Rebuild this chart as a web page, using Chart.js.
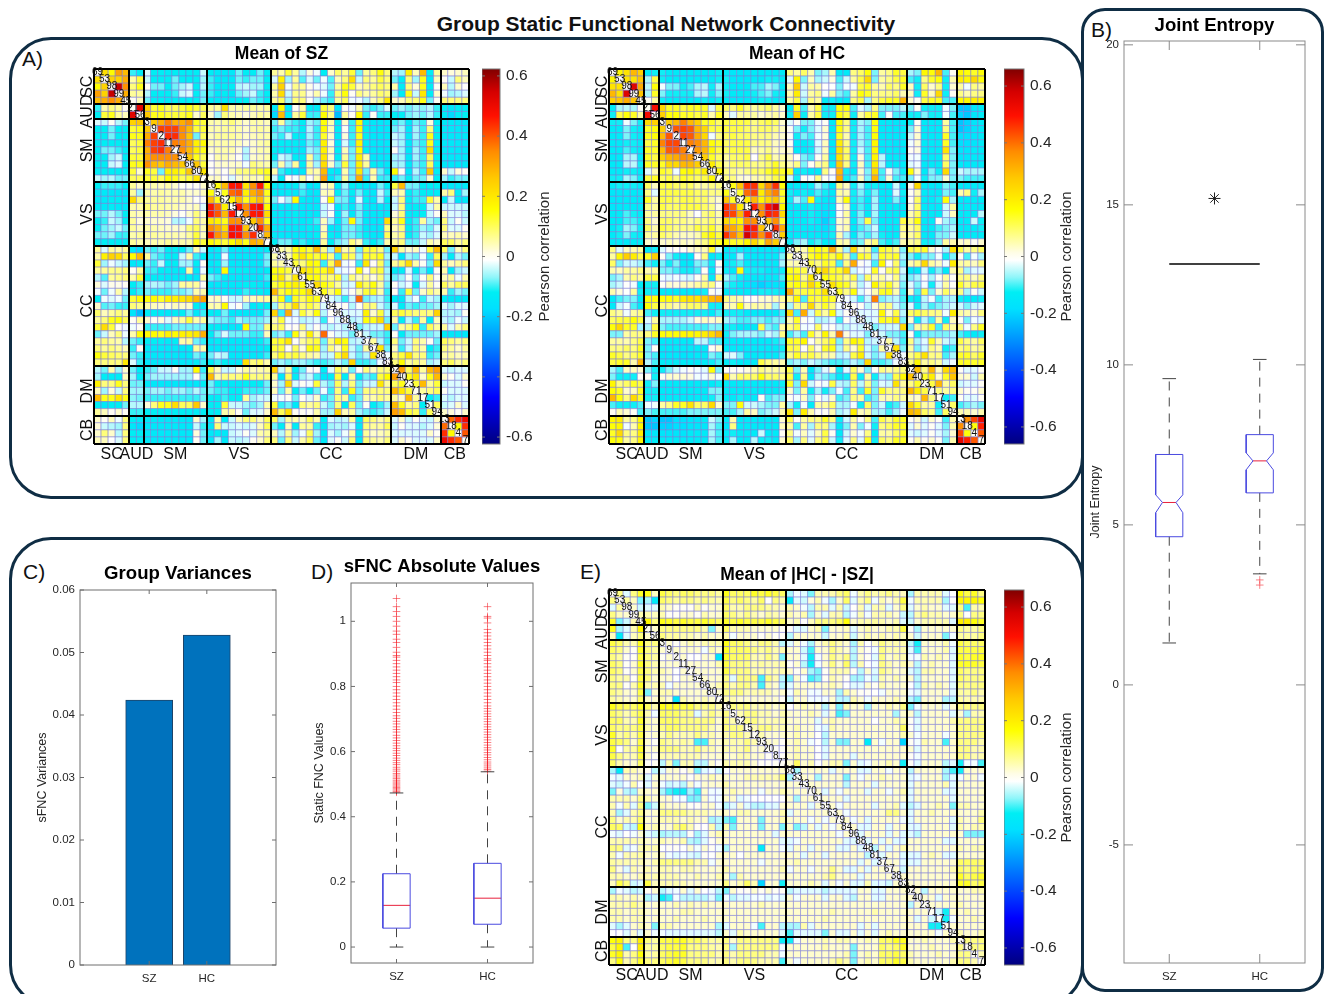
<!DOCTYPE html>
<html>
<head>
<meta charset="utf-8">
<title>Group Static Functional Network Connectivity</title>
<script src="https://cdn.jsdelivr.net/npm/chart.js@4"></script>
<style>
html, body { margin: 0; padding: 0; background: #fff; }
body { position: relative; width: 1325px; height: 994px; overflow: hidden; font-family: "Liberation Sans", sans-serif; color: #111; }
canvas { position: absolute; }
.frame { position: absolute; box-sizing: border-box; border: 3px solid #0f2d44; }
.letter { position: absolute; font-size: 21px; line-height: 24px; }
#main-title { position: absolute; left: 266px; width: 800px; top: 11px; text-align: center; font-size: 21px; line-height: 26px; font-weight: bold; }
</style>
</head>
<body>
<div class="frame" style="left:9px;top:37px;width:1075px;height:462px;border-radius:42px"></div>
<div class="frame" style="left:9px;top:537px;width:1075px;height:470px;border-radius:42px"></div>
<div class="frame" style="left:1081px;top:8px;width:243px;height:984px;border-radius:24px"></div>
<div id="main-title">Group Static Functional Network Connectivity</div>
<div class="letter" style="left:22px;top:47px">A)</div>
<div class="letter" style="left:1091px;top:18px">B)</div>
<div class="letter" style="left:23px;top:560px">C)</div>
<div class="letter" style="left:311px;top:560px">D)</div>
<div class="letter" style="left:580px;top:560px">E)</div>
<script>
// Networks and component ids along the matrix diagonal
const networks = ['SC', 'AUD', 'SM', 'VS', 'CC', 'DM', 'CB'];
const networkSizes = [5, 2, 9, 9, 17, 7, 4];
const componentIds = [69, 53, 98, 99, 45, 21, 56, 3, 9, 2, 11, 27, 54, 66, 80, 72, 16, 5, 62, 15, 12, 93, 20, 8, 77,
    68, 33, 43, 70, 61, 55, 63, 79, 84, 96, 88, 48, 81, 37, 67, 38, 83, 32, 40, 23, 71, 17, 51, 94, 13, 18, 4, 7];

// Upper triangle of each matrix, one row per component, values in hundredths
const szUpper = [
[22,16,32,28, -10,-12, -3,-12,-12,-13,-12,-12,-12,-12,-4, -12,-14,-14,-14,-8,-12,-12,-8,-12, 6,5,12,6,-5,2,-2,-12,3,9,6,12,-8,6,8,15,8, -5,-6,18,4,28,-12,6, 3,2,3,4],
[24,24,30, 5,12, -4,-12,-12,-12,-8,-12,-12,-12,-6, -10,-14,-14,-14,-8,-10,-8,-8,-12, -3,18,-6,6,-9,-3,-8,-2,-9,4,8,22,-4,8,6,12,8, -8,-12,8,-6,14,-14,4, 0,-4,8,4],
[56,34, 8,14, 0,-8,-8,-12,-8,-6,-4,-12,-5, -10,-14,-12,-12,-5,-4,-6,-6,-12, 6,24,-2,7,6,1,-2,-3,-8,6,14,12,4,6,8,10,8, 5,-12,8,2,14,-12,0, 4,-5,3,-1],
[30, 6,6, -5,-12,-12,-12,-10,-4,-3,-12,-8, -10,-14,-12,-14,-8,-6,-4,-10,-12, 5,22,-4,7,7,1,5,-2,-10,8,15,0,8,5,6,9,8, -6,-12,14,-4,20,-12,3, -2,-6,-5,-3],
[0,4, -8,-12,-12,-14,-12,-12,-12,-12,-8, -12,-14,-14,-14,-12,-12,-8,-10,-12, 6,10,-6,8,8,0,-5,-8,-10,6,10,-2,-2,-5,4,8,20, 3,4,8,8,14,-8,0, 8,8,8,8],
[52, 24,12,14,10,10,12,14,12,10, 6,6,22,5,5,6,6,5,6, -14,16,-14,0,5,-12,-13,12,8,-15,0,-2,5,-8,-10,-8,-3, -8,-6,-8,-6,-7,-5,-10, -12,-14,-12,-12],
[26,14,14,12,12,12,14,3,10, 3,-6,8,5,4,2,4,6,5, -18,28,-12,6,12,-10,-10,16,7,-22,6,0,16,-10,0,-10,-10, -12,-12,-8,-6,-8,-5,-10, -13,-18,-12,-12],
[26,30,36,30,30,34,14,12, 5,5,6,8,5,3,5,5,4, -8,6,-8,-10,-12,-6,-8,15,5,-12,3,-10,17,-12,-14,-14,-14, -10,-8,-14,-8,-10,2,-12, -14,-14,-14,-14],
[42,42,42,34,28,12,12, 5,5,6,6,5,3,5,6,5, -10,-8,-10,-10,-12,-5,-10,16,4,-12,0,-10,16,-12,-14,-14,-14, -8,-6,-14,-6,-10,8,-12, -14,-14,-14,-14],
[44,44,34,26,-8,10, 4,6,6,6,5,3,4,5,5, -8,-10,-4,-12,-12,-6,-10,13,3,-13,2,-10,14,-12,-14,-14,-14, -4,-6,-14,-6,-10,14,-12, -14,-14,-14,-14],
[36,34,30,18,16, 5,5,5,5,4,2,3,5,6, -12,-12,-12,-12,-14,-8,-10,18,2,-14,-3,-10,18,-13,-14,-14,-14, -4,-6,-14,-8,-10,14,-12, -14,-14,-14,-14],
[34,28,18,14, 3,5,5,5,2,-5,3,5,5, -12,-12,-12,-13,-14,-6,-8,18,4,-12,4,-8,16,-12,-14,-14,-14, 0,-6,-14,-6,-10,22,-12, -14,-14,-14,-14],
[26,14,10, 0,5,5,3,0,-5,3,4,5, -12,-4,-6,-12,-12,6,-8,20,3,-12,6,-8,18,5,-14,-14,-14, -6,-6,-14,-6,-10,10,-12, -14,-14,-14,-14],
[26,12, 0,3,3,3,3,-2,8,6,5, -8,5,-6,6,-12,6,-6,22,3,-8,12,-8,18,6,-12,-13,-14, -6,-6,-14,-8,-10,10,-12, -14,-14,-14,-14],
[20, 0,3,0,4,8,8,10,12,14, 5,-10,-12,-14,-14,6,5,28,-12,-14,5,-8,20,-8,6,-8,-12, 16,0,-14,-5,-10,26,-12, 3,-4,2,0],
[3,4,0,-3,3,5,5,4,12, -4,-12,0,-2,6,0,5,32,-14,-10,6,-8,30,-10,5,-10,-10, -10,-8,-12,-8,-8,3,-12, -6,-10,-8,-8],
[15,28,46,46,20,34,46,16, -14,-14,-14,-12,-8,-14,-14,3,5,-12,-6,-12,-12,-14,-14,-8,-12, 12,28,-8,-8,-12,-12,-12, -14,-14,-14,-14],
[14,38,40,18,30,34,14, -12,-14,-12,-14,-10,-14,-14,4,5,-12,-8,-12,-8,-12,-14,-4,-10, 4,5,-12,-10,-12,-12,-12, 5,8,-12,-6],
[18,28,14,22,28,12, -8,-2,-6,16,-12,-14,-14,0,16,-8,-8,-14,-3,-12,-14,-5,-12, -4,8,-12,-10,-10,12,5, -12,-4,-14,-14],
[46,34,46,48,16, -14,-14,-14,-12,-14,-14,-14,-4,-2,-14,-10,-14,-8,-14,-14,-14,-14, -4,8,-14,-12,-12,-4,5, -4,-4,-4,-4],
[34,46,46,22, -14,-14,-14,-12,-14,-14,-14,-4,0,-14,-6,-14,-8,-14,-14,-14,-14, 2,8,-14,-12,-12,-4,0, 4,-3,-3,-5],
[26,34,14, -14,-14,-14,-12,-14,-12,-10,4,-6,-14,-8,16,-8,-14,-14,-14,22, 6,14,-12,-10,6,-6,-8, 8,-4,0,-4],
[44,30, -14,-14,-14,-14,-14,-12,-12,4,-14,-14,-8,-8,-10,-14,-14,-14,8, 4,8,-12,-10,-6,-8,-3, 8,-3,-3,0],
[28, -14,-14,-14,-14,-14,-14,-12,6,-12,-14,-8,-8,-10,-12,-14,-14,10, 5,8,-12,-10,-4,-6,-3, 4,4,5,3],
[-12,-8,-8,-12,-10,-14,-14,6,-12,-8,-6,8,4,-10,-12,-10,5, 6,8,-8,-8,-4,5,3, 10,10,6,8],
[5,6,15,15,12,28,8,-6,24,5,8,-8,12,12,8,-8, 24,6,3,4,-2,12,28, 10,-8,4,8],
[5,15,20,15,12,15,8,-10,12,10,-6,14,12,14,-6, -4,-14,-6,-8,-2,-10,10, -6,-12,-5,-8],
[12,8,16,15,-10,10,30,-2,0,-10,20,0,10,-8, 6,10,22,5,0,-8,22, 6,4,6,8],
[20,18,15,14,22,-3,-2,0,15,0,10,12,-6, -12,-12,-3,-12,-8,-14,0, 5,-12,-6,-4],
[15,15,10,8,12,-5,8,4,6,2,8,-6, -8,-6,0,-8,0,8,0, 4,6,-2,5],
[22,15,12,6,-4,-3,18,10,15,6,-8, 0,-4,-2,-12,-3,6,0, 10,6,10,10],
[14,8,15,-3,0,5,12,14,5,-10, 0,-10,12,-8,3,8,5, 5,-10,-6,-8],
[-3,-5,-10,-4,38,-8,-6,-5,-10, -12,-14,-5,-2,-10,-4,-6, -12,-14,-14,-14],
[0,0,-5,0,8,8,-4,-8, -3,-12,-8,-10,-8,-8,-6, -3,-6,-3,-3],
[-3,-3,-3,18,3,12,-5, 10,12,10,8,8,8,24, -5,-5,-6,0],
[-5,-4,15,14,22,-8, 5,-12,-5,-10,6,-12,4, -4,-6,-2,-4],
[-8,-5,-4,-4,24, -8,6,8,14,-10,10,6, 6,-3,5,8],
[-4,-8,-8,-10, 0,-12,-8,-8,-8,-8,-6, -12,-14,-14,-14],
[6,-5,-10, 8,-8,-4,8,5,0,-8, 10,8,6,8],
[20,-8, 4,-10,-4,8,5,-12,-10, 8,6,3,6],
[-2, 8,12,20,8,8,-10,-8, 5,6,4,5],
[8,16,6,8,6,-6,-4, 8,10,6,8],
[32,10,28,6,28,32, -3,-4,-3,-3],
[14,20,3,14,28, 3,0,-3,3],
[12,28,6,12, -4,-3,-3,0],
[6,8,10, 0,-3,-3,-3],
[-12,-10, -3,-5,-3,-3],
[10, -4,-3,3,-3],
[3,2,0,3],
[38,44,50],
[16,44],
[40]
];

const hcUpper = [
[18,22,30,26, -14,-12, -12,-14,-14,-14,-14,-14,-14,-14,-12, -14,-15,-15,-15,-14,-14,-14,-14,-14, 8,6,10,5,-8,-6,5,-14,-14,8,10,16,-8,6,8,14,12, -6,-8,18,16,30,-10,0, 18,16,14,16],
[22,22,28, -6,12, -12,-14,-14,-14,-14,-14,-14,-14,-12, -12,-15,-15,-15,-14,-14,-12,-12,-14, -3,18,-8,4,-6,-4,2,-10,-4,6,12,24,-8,6,8,12,14, -10,-12,8,14,16,-12,5, 20,18,24,16],
[56,32, -5,16, -2,-8,-8,-12,-10,-6,-5,-12,-6, -12,-14,-14,-14,-10,-10,-6,-8,-14, 4,26,-4,6,5,-1,-1,-8,-2,-2,12,14,6,5,10,8,14, 4,-12,10,3,8,-12,3, 6,-2,8,6],
[28, -6,14, -8,-12,-12,-12,-12,-6,-5,-12,-8, -12,-14,-14,-14,-12,-10,-8,-12,-14, 5,20,-4,6,8,-2,6,-8,-10,6,16,14,8,8,8,10,5, 4,-12,14,4,24,-12,0, 8,5,8,8],
[0,6, -12,-14,-14,-14,-14,-14,-12,-14,-12, -14,-15,-15,-15,-14,-12,-12,-14,-14, 6,12,-6,8,6,-14,-12,-14,-14,8,12,-6,8,12,14,14,30, 3,0,12,14,14,-10,-10, 18,18,20,18],
[52, 24,14,14,12,14,14,14,-3,12, 10,8,14,8,6,8,10,6,3, -14,14,-10,5,12,-12,-12,16,16,-10,-3,-6,8,-8,-8,-8,-5, -8,0,-12,-12,-12,-2,-8, -22,-22,-16,-14],
[26,16,16,14,14,12,14,5,14, 4,-3,6,6,6,3,5,6,3, -12,26,-12,6,12,-12,-12,16,12,-12,6,12,14,-10,0,-10,-10, -12,-12,-8,-12,-12,-2,-10, -20,-22,-16,-14],
[26,30,38,30,26,14,14,10, 12,12,12,12,8,10,12,10,3, -3,0,-8,-8,-2,0,-14,16,8,-12,-6,-8,16,-14,-14,-15,-14, -12,0,-14,-14,-14,6,-10, -22,-20,-16,-14],
[42,44,42,30,24,12,12, 12,12,12,10,8,10,10,8,4, 0,-8,-12,-8,-3,3,-14,16,8,-12,-6,-10,16,-14,-14,-15,-14, -8,3,-14,-14,-14,8,-10, -22,-20,-16,-14],
[44,42,32,24,-2,8, 10,12,10,10,8,8,8,5,3, 0,-12,-8,-10,-2,2,-14,14,5,-12,-6,-10,16,-14,-14,-15,-14, -4,3,-14,-14,-14,14,-10, -18,-18,-16,-14],
[38,36,30,16,14, 10,12,12,12,8,8,8,4,4, 0,-14,-14,-12,-3,4,-14,20,8,-12,-6,-10,18,-14,-14,-16,-14, -2,3,-14,-14,-14,14,-10, -18,-18,-16,-14],
[34,30,18,12, 10,12,12,12,4,6,8,4,3, 3,-14,-14,-12,-4,4,-14,22,10,-12,-4,-10,18,-14,-14,-15,-14, 0,2,-14,-14,-14,22,-8, -16,-16,-14,-14],
[26,14,10, 6,10,10,12,-1,8,12,5,6, 4,0,-8,-10,0,6,-14,22,10,-12,2,-10,18,-5,-14,-14,-14, -2,-2,-14,-14,-14,10,-8, -16,-16,-14,-14],
[20,12, 6,10,10,10,8,8,10,14,8, 5,8,-8,0,6,8,-12,26,8,-12,4,-10,20,-5,-14,-14,-14, -3,-2,-14,-14,-14,10,-8, -14,-15,-14,-14],
[18, 8,8,6,8,10,10,14,18,14, 14,-14,-12,-14,-14,8,0,30,-12,-14,3,-8,24,-10,0,-8,-12, 16,3,-14,-8,-12,24,-8, -4,-6,-6,-6],
[8,8,3,2,5,6,8,12,14, -4,-12,0,-2,8,0,-2,32,-12,-10,4,-8,30,-10,3,-10,-10, -8,-2,-12,-8,-8,3,-8, -8,-10,-10,-10],
[15,28,46,46,24,36,46,16, -14,-14,-14,-12,-6,-10,-14,8,4,-12,-6,-12,-12,-14,-14,-4,-14, 0,24,-14,-14,-14,-8,-10, -14,-16,-14,-14],
[14,40,44,20,32,38,14, -12,-14,-12,-14,-10,-12,-14,6,5,-12,-8,-12,-8,-14,-14,-3,-12, 0,5,-14,-14,-14,-8,-10, 5,8,-12,-6],
[20,30,18,24,28,14, -12,-6,-10,16,-12,-14,-14,5,16,-12,-10,-14,-6,-14,-14,-8,-14, 0,10,-14,-14,-12,16,-6, -14,-14,-14,-14],
[48,36,50,58,18, -14,-14,-14,-12,-14,-16,-14,0,4,-14,-10,-14,-6,-14,-14,-14,-14, 2,10,-14,-14,-14,-4,6, -14,-14,-14,-14],
[36,48,46,24, -14,-14,-14,-12,-14,-18,-14,0,6,-14,-8,-14,-6,-14,-14,-14,-14, 5,10,-14,-14,-14,-4,4, -14,-14,-14,-5],
[28,36,14, -14,-14,-14,-12,-14,-20,-12,3,5,-14,-8,12,-8,-14,-14,-14,12, 8,16,-14,-14,0,-6,-8, -14,-14,-4,-12],
[46,32, -14,-14,-14,-14,-14,-18,-12,3,5,-14,-10,-8,-4,-14,-14,-14,8, 6,10,-14,-14,-10,-8,-6, -14,-14,-14,-12],
[26, -14,-14,-14,-14,-14,-16,-12,5,-6,-14,-8,-10,-6,-12,-14,-14,6, 6,10,-14,-14,-8,-8,-4, -14,-14,-14,-14],
[-12,-8,-6,-12,-10,-14,-14,6,5,-10,-8,6,8,-10,-12,-10,5, 6,8,-12,-12,-8,6,5, 3,4,0,3],
[6,5,15,16,14,32,8,-6,24,5,8,-10,14,12,8,-8, 12,12,14,3,0,-6,22, 12,6,8,10],
[5,14,18,16,12,18,8,-10,14,12,-6,14,12,14,-6, -8,-12,-8,-8,-2,-12,-8, 0,-10,-2,-6],
[12,8,14,12,-10,8,32,0,-2,-10,18,0,10,-8, 5,8,24,6,4,-2,20, 6,6,4,8],
[20,24,14,14,24,-4,-2,-2,14,0,10,12,-4, -14,-14,-4,-12,-8,-14,5, 8,-6,-3,-3],
[16,14,12,8,12,-6,10,5,6,2,8,-6, -8,-6,0,-6,0,6,0, 8,8,4,8],
[22,16,14,6,-5,-2,18,10,14,6,-8, -3,-8,-2,-12,-3,6,0, 14,8,12,12],
[14,8,16,-3,0,5,14,15,5,-10, 3,-10,12,-8,3,10,5, 8,-6,0,-4],
[-2,-4,-10,-4,38,-8,-6,-5,-10, -12,-14,-5,-2,-10,-6,-6, -12,-14,-14,-12],
[0,0,-5,2,8,8,-4,-8, -3,-12,-6,-10,-8,-6,-4, -4,-8,-4,-3],
[-3,-3,-3,18,3,12,-5, 10,12,10,8,8,-2,20, 6,5,3,8],
[-4,-3,15,14,20,-8, 3,-12,-5,-10,6,-12,4, 0,-8,-2,-3],
[-8,-5,-4,-4,24, -8,6,8,14,-10,10,6, 8,-2,8,14],
[-4,-8,-8,-10, 0,-12,-8,-8,-8,-8,-6, -10,-12,-14,-12],
[6,-5,-10, 8,-6,-3,14,5,-4,-6, 12,8,6,10],
[22,-8, 6,-8,-4,8,5,-12,-10, 8,10,6,8],
[-2, 8,12,22,8,8,-10,-6, 14,14,10,14],
[8,18,6,8,6,-4,-2, 14,14,14,14],
[28,8,30,4,24,30, 0,-3,-3,0],
[14,20,3,14,28, 3,3,-4,5],
[12,30,6,10, -4,-3,-3,0],
[8,6,8, 3,0,0,3],
[-12,-10, 0,-3,-3,0],
[10, -10,-8,-6,-8],
[5,5,3,5],
[36,44,54],
[16,48],
[42]
];

const diffUpper = [
[8,-3,8,14, 15,4, 12,10,8,10,10,8,8,8,6, 15,10,10,10,14,12,14,12,10, -6,-2,-3,-8,5,5,5,8,10,-2,5,8,5,6,8,5,4, -6,5,5,5,5,-3,-1, 16,12,14,8],
[6,4,-8, -6,-14, 10,8,6,8,8,6,8,6,5, 12,8,10,8,6,10,-1,8,5, -14,-3,-4,2,5,-2,-6,3,10,-3,5,8,-2,5,2,5,12, -2,5,5,5,5,-6,-1, 18,18,18,16],
[3,-4, -3,-3, 5,3,0,0,0,5,0,3,3, 10,5,5,8,8,8,6,5,3, 5,3,-2,-5,5,5,-3,5,-4,-1,5,-3,5,5,-3,3,8, -3,3,5,3,3,-3,-3, 8,-10,5,5],
[5, 5,4, 5,0,0,3,3,0,5,3,3, 10,8,5,8,5,3,6,5,3, 5,3,5,-6,3,-3,5,5,-5,-2,5,-2,5,5,5,3,-4, -5,5,8,5,5,3,3, 8,-1,8,8],
[18,8, 15,14,12,14,12,12,14,12,10, 14,12,14,12,12,12,14,12,10, 3,5,-1,4,8,8,8,10,16,3,5,5,6,5,3,5,-3, -4,3,5,5,5,5,-3, 20,20,16,14],
[3, 8,8,8,8,8,8,5,-8,3, 10,5,5,5,3,3,3,3,0, 0,-3,-3,3,5,-8,3,3,4,-3,3,5,3,3,5,5,12, 0,-6,3,3,3,3,3, 8,6,6,8],
[8,6,6,5,5,3,5,3,3, 5,-2,3,3,3,0,3,0,0, -5,3,3,3,3,-4,3,3,5,-4,3,5,3,5,3,5,4, 3,-4,3,3,3,-8,-2, 6,6,6,8],
[3,0,3,5,3,5,5,5, 15,10,10,8,5,8,8,5,-5, -3,3,-2,-6,3,5,8,5,3,-6,5,-1,3,8,5,5,5, -5,-12,3,3,3,5,-2, 12,10,10,10],
[3,3,3,3,-2,5,3, 14,10,10,10,8,6,8,5,5, 3,3,-4,-10,3,3,8,5,3,-5,3,0,-2,8,5,5,5, -3,-10,3,3,3,5,-3, 12,12,12,12],
[3,-1,-1,3,3,-16, 14,10,10,10,5,5,8,5,-8, 3,3,-3,-12,-2,3,8,5,8,-5,3,0,-3,8,3,5,5, -2,-2,5,3,5,3,-3, 14,12,14,14],
[3,3,3,3,5, 12,8,8,8,5,6,5,5,5, 0,3,-5,-12,-2,3,8,3,10,-5,5,-1,-2,8,5,3,5, 3,-5,3,5,3,3,-3, 14,14,14,12],
[3,3,3,3, 12,8,8,8,5,5,5,5,5, 3,0,3,-6,-8,0,5,5,5,0,-5,3,-3,8,5,3,3, -3,-5,5,5,3,3,-3, 10,8,8,8],
[3,3,3, 8,-3,8,8,8,-10,8,5,-5, -8,3,-2,-10,-8,0,5,3,0,-6,-6,-2,-4,5,3,5,3, 3,-5,3,3,3,3,-3, 10,8,8,8],
[3,5, 8,5,8,8,5,-10,5,3,-5, -3,3,3,3,3,3,5,3,-1,-3,-3,3,0,5,3,3,3, -1,-5,5,3,5,3,-3, 8,8,8,8],
[3, 8,8,8,5,5,5,5,3,3, -2,5,3,-2,-2,3,3,-6,5,3,0,0,-1,-2,3,3,3, -2,-3,3,3,3,3,-3, 6,6,8,5],
[5,5,3,3,3,3,3,3,0, -4,3,3,-2,-2,-2,3,-5,-5,5,3,-2,3,3,3,5,3, -5,-8,3,3,3,-6,-5, 6,5,5,5],
[8,8,8,5,5,5,3,5, -1,3,5,3,3,-5,3,-8,5,3,3,-6,3,3,5,3,8, -8,-2,3,3,3,-3,3, 8,8,8,8],
[5,8,8,5,5,3,5, 3,3,3,5,3,-3,3,-10,-8,3,3,3,3,3,3,-6,3, 3,-5,3,3,3,3,-3, 3,-6,5,5],
[8,8,5,5,5,5, 3,3,3,3,-3,3,5,3,3,3,3,3,-1,3,3,5,5, 0,-3,3,3,3,3,5, 8,8,8,8],
[5,8,8,5,5, 3,5,3,3,-2,-3,5,3,3,3,3,3,3,3,3,3,10, 0,-3,3,3,3,3,3, 8,8,8,8],
[5,3,3,3, 3,5,3,3,-1,-5,3,3,3,3,3,3,3,3,3,3,5, 3,-2,3,3,3,-2,3, 8,8,8,8],
[3,3,0, 3,5,3,-2,-1,-5,3,-8,-8,3,3,-14,3,-2,3,3,-20, 0,-2,5,3,3,-10,3, 8,8,8,5],
[0,0, 3,5,3,3,-1,-3,3,3,3,3,3,3,3,3,3,3,3, 3,-3,3,3,3,3,3, 8,8,5,5],
[0, 3,5,3,3,-1,-3,3,3,3,-3,3,3,3,3,3,3,3, 0,-2,3,3,3,3,3, 8,8,5,5],
[3,10,3,5,-1,3,5,5,-8,3,-3,-2,3,3,5,3,-12, 0,-3,3,3,3,-5,-3, -12,-2,-2,-10],
[-6,3,3,3,3,-3,3,3,3,-3,-3,3,3,-2,3,3, -5,3,3,3,3,-6,-10, -12,3,3,3],
[3,3,-6,3,3,3,-8,3,-2,3,3,5,3,3,3, -3,-2,3,3,3,-6,-3, -2,3,3,-2],
[3,3,3,3,3,-5,3,3,3,-3,3,3,3,3, -3,3,3,3,3,5,-3, 3,3,3,3],
[3,-3,3,-2,3,3,3,-3,3,3,-2,3,5, -3,3,3,3,3,-3,-3, 3,3,3,3],
[3,3,3,-3,3,3,3,3,3,3,3,3, -3,3,3,3,3,3,-3, 3,3,3,3],
[3,-2,3,3,3,3,-3,3,3,5,-3, -5,-3,3,3,5,3,-8, 5,5,3,3],
[3,-2,3,3,3,3,3,8,8,3, -3,3,3,5,3,3,3, 3,3,3,5],
[3,-2,3,-3,3,3,3,3,-2, -3,3,3,3,3,3,-3, 5,3,3,8],
[3,-3,-3,3,3,-3,3,3, -3,-3,3,3,3,3,-3, 5,3,5,5],
[-3,3,3,3,-3,3,-3, -3,-5,3,3,3,3,3, 3,-8,-8,-8],
[-3,3,-3,3,-3,-3, 3,3,3,3,3,-3,-3, 3,3,3,3],
[-5,3,-3,3,5, 3,3,3,3,3,3,3, 5,3,5,5],
[-3,3,3,-3, -3,-3,3,5,3,-3,-3, 3,3,3,3],
[3,3,-3, -3,-3,3,3,3,3,3, 10,10,10,10],
[3,-4, 3,3,3,3,3,3,5, 10,8,10,10],
[3, 3,3,3,3,3,3,3, 14,10,12,14],
[3,3,3,3,3,3,3, 14,14,10,12],
[3,-5,3,3,3,3, 3,3,5,5],
[3,3,-3,3,3, 3,3,3,3],
[3,3,3,3, 5,3,3,3],
[-4,-12,3, 3,5,3,3],
[-12,-2, 3,3,5,3],
[3, 3,3,3,3],
[5,3,3,5],
[8,8,8],
[8,8],
[5]
];

// Colour scale limits of the three matrices
const szLimit = 0.623;
const hcLimit = 0.66;
const diffLimit = 0.66;
const barTicks = [-0.6, -0.4, -0.2, 0, 0.2, 0.4, 0.6];

// Group variances (panel C)
const groups = ['SZ', 'HC'];
const groupVariances = [0.0424, 0.0528];
const varianceTicks = [0, 0.01, 0.02, 0.03, 0.04, 0.05, 0.06];

// Boxplot of sFNC absolute values (panel D): low whisker, q1, median, q3, high whisker
const szFnc = [0, 0.058, 0.128, 0.225, 0.473];
const hcFnc = [0, 0.07, 0.15, 0.257, 0.538];
const fncTicks = [0, 0.2, 0.4, 0.6, 0.8, 1];
const szFncOutliers = [0.475, 0.478, 0.482, 0.486, 0.49, 0.494, 0.498, 0.503, 0.507, 0.512, 0.517, 0.522, 0.528, 0.533, 0.54, 0.546, 0.552, 0.56, 0.566, 0.573, 0.58, 0.588, 0.595, 0.603, 0.61, 0.618, 0.626, 0.634, 0.642, 0.65, 0.66, 0.668, 0.676, 0.685, 0.693, 0.702, 0.71, 0.72, 0.73, 0.74, 0.75, 0.76, 0.77, 0.78, 0.79, 0.8, 0.812, 0.82, 0.83, 0.84, 0.85, 0.86, 0.87, 0.88, 0.89, 0.895, 0.905, 0.92, 0.935, 0.945, 0.96, 0.97, 0.985, 1.0, 1.015, 1.03, 1.045, 1.07];
const hcFncOutliers = [0.54, 0.545, 0.55, 0.556, 0.562, 0.568, 0.575, 0.582, 0.59, 0.597, 0.605, 0.612, 0.62, 0.628, 0.636, 0.644, 0.652, 0.66, 0.668, 0.676, 0.684, 0.692, 0.7, 0.708, 0.716, 0.724, 0.732, 0.74, 0.75, 0.76, 0.77, 0.78, 0.79, 0.8, 0.81, 0.82, 0.83, 0.84, 0.85, 0.86, 0.87, 0.88, 0.885, 0.895, 0.905, 0.915, 0.925, 0.935, 0.945, 0.955, 0.965, 0.975, 0.995, 1.01, 1.015, 1.045];

// Notched boxplot of joint entropy (panel B): low whisker, q1, notch low, median, notch high, q3, high whisker
const szEntropy = [1.31, 4.63, 5.38, 5.7, 5.94, 7.2, 9.57];
const hcEntropy = [3.47, 6.0, 6.72, 7.0, 7.25, 7.82, 10.17];
const hcEntropyOutliers = [3.28, 3.12];
const entropyTicks = [-5, 0, 5, 10, 15, 20];
const significanceLevel = 13.15;
const significanceMark = 15.2;

Chart.defaults.font.family = '"Liberation Sans", sans-serif';
Chart.defaults.color = '#262626';
Chart.defaults.animation = false;
Chart.defaults.events = [];
Chart.defaults.plugins.legend.display = false;
Chart.defaults.plugins.tooltip.enabled = false;

const colorStops = [[-1, '#00007f'], [-0.75, '#0000ff'], [-0.4, '#00a8ff'], [-0.28, '#00e0ff'], [-0.19, '#00eef4'], [-0.11, '#90f6fa'], [-0.02, '#ffffff'], [0.02, '#fffde6'], [0.25, '#ffff00'], [0.42, '#ffc800'], [0.56, '#ff8c00'], [0.75, '#ff1000'], [0.88, '#d40000'], [1, '#800000']];

function hexToRgb(hex) {
    return [1, 3, 5].map(i => parseInt(hex.slice(i, i + 2), 16));
}

function valueColor(value, limit) {
    const t = Math.max(-1, Math.min(1, value / limit));
    for (let i = 1; i < colorStops.length; i++) {
        if (t <= colorStops[i][0]) {
            const a = colorStops[i - 1];
            const b = colorStops[i];
            const f = (t - a[0]) / (b[0] - a[0]);
            const ca = hexToRgb(a[1]);
            const cb = hexToRgb(b[1]);
            return 'rgb(' + ca.map((c, k) => Math.round(c + (cb[k] - c) * f)).join(',') + ')';
        }
    }
    return colorStops[colorStops.length - 1][1];
}

function addCanvas(plot, left, right, top, bottom) {
    const canvas = document.createElement('canvas');
    canvas.width = plot.w + left + right;
    canvas.height = plot.h + top + bottom;
    canvas.style.left = (plot.x - left) + 'px';
    canvas.style.top = (plot.y - top) + 'px';
    document.body.appendChild(canvas);
    return canvas;
}

// title box is exactly 30px high, centred on centerY
function titleOptions(text, size, centerY, plotTop) {
    const lineHeight = size * 1.2;
    const above = 30 - (plotTop - centerY) - lineHeight / 2;
    return {
        display: true, text: text, color: '#000',
        font: { size: size, weight: 'bold' },
        padding: { top: above, bottom: 30 - above - lineHeight }
    };
}

function setTicks(values) {
    return scale => { scale.ticks = values.map(v => ({ value: v })); };
}

// empty axis that keeps the plot area centred under the title
function spacerAxis(width) {
    return {
        axis: 'y', position: 'right',
        grid: { display: false }, border: { display: false }, ticks: { display: false },
        afterFit: s => { s.width = width; }
    };
}

// network boundaries as positions on the matrix axes
function networkBoundaries() {
    const bounds = [0.5];
    networkSizes.forEach(n => bounds.push(bounds[bounds.length - 1] + n));
    return bounds;
}

const matrixLabels = {
    id: 'matrixLabels',
    afterDraw(chart) {
        const ctx = chart.ctx;
        const x = chart.scales.x;
        const y = chart.scales.y;
        const bounds = networkBoundaries();
        ctx.save();
        ctx.textAlign = 'center';
        ctx.textBaseline = 'middle';
        ctx.fillStyle = '#111';
        ctx.font = '10px "Liberation Sans"';
        componentIds.forEach((id, i) => {
            ctx.fillText(id, x.getPixelForValue(i + 1), y.getPixelForValue(i + 1));
        });
        ctx.font = '16px "Liberation Sans"';
        networks.forEach((name, i) => {
            const mid = (bounds[i] + bounds[i + 1]) / 2;
            ctx.fillText(name, x.getPixelForValue(mid), chart.chartArea.bottom + 11);
            ctx.save();
            ctx.translate(chart.chartArea.left - 6, y.getPixelForValue(mid));
            ctx.rotate(-Math.PI / 2);
            ctx.fillText(name, 0, 0);
            ctx.restore();
        });
        ctx.restore();
    }
};

function drawMatrix(upper, limit, plot, title, titleY) {
    const margin = 36;
    const cells = [];
    const diagonal = componentIds.length;
    for (let i = 1; i <= diagonal; i++) {
        cells.push({ x: i, y: i, v: 0 });
    }
    upper.forEach((row, i) => {
        row.forEach((value, k) => {
            const j = i + k + 1;
            cells.push({ x: j + 1, y: i + 1, v: value / 100 });
            cells.push({ x: i + 1, y: j + 1, v: value / 100 });
        });
    });
    const bounds = networkBoundaries();
    const axis = {
        type: 'linear', min: 0.5, max: diagonal + 0.5,
        afterBuildTicks: setTicks(bounds),
        ticks: { display: false },
        grid: { color: '#000', lineWidth: 2, z: 1, drawTicks: false },
        border: { display: false }
    };
    new Chart(addCanvas(plot, margin, margin, 30, 30), {
        type: 'scatter',
        data: {
            datasets: [{
                data: cells,
                pointStyle: 'rect',
                pointRadius: plot.w / diagonal / Math.SQRT2,
                pointBackgroundColor: cells.map(c => valueColor(c.v, limit)),
                pointBorderColor: 'rgba(120,120,215,0.75)',
                pointBorderWidth: 0.7
            }]
        },
        options: {
            responsive: false,
            plugins: { title: titleOptions(title, 17.5, titleY, plot.y) },
            scales: {
                x: { ...axis, afterFit: s => { s.height = 30; } },
                y: { ...axis, reverse: true, afterFit: s => { s.width = margin; } },
                y2: spacerAxis(margin)
            }
        },
        plugins: [matrixLabels]
    });
}

const axisBox = {
    id: 'axisBox',
    afterDraw(chart, args, opts) {
        const ctx = chart.ctx;
        const area = chart.chartArea;
        const len = opts.len;
        ctx.save();
        ctx.strokeStyle = opts.color || '#6e6e6e';
        ctx.lineWidth = 1;
        ctx.strokeRect(area.left, area.top, area.right - area.left, area.bottom - area.top);
        ctx.beginPath();
        chart.scales.y.ticks.forEach(t => {
            const p = chart.scales.y.getPixelForValue(t.value);
            ctx.moveTo(area.left, p);
            ctx.lineTo(area.left + len, p);
            ctx.moveTo(area.right, p);
            ctx.lineTo(area.right - len, p);
        });
        if (opts.xTicks !== false) {
            chart.scales.x.ticks.forEach(t => {
                const p = chart.scales.x.getPixelForValue(t.value);
                ctx.moveTo(p, area.bottom);
                ctx.lineTo(p, area.bottom - len);
                ctx.moveTo(p, area.top);
                ctx.lineTo(p, area.top + len);
            });
        }
        ctx.stroke();
        ctx.restore();
    }
};

const sideLabel = {
    id: 'sideLabel',
    afterDraw(chart, args, opts) {
        const ctx = chart.ctx;
        ctx.save();
        ctx.translate(opts.x, (chart.chartArea.top + chart.chartArea.bottom) / 2);
        ctx.rotate(-Math.PI / 2);
        ctx.textAlign = 'center';
        ctx.textBaseline = 'middle';
        ctx.fillStyle = '#262626';
        ctx.font = '15px "Liberation Sans"';
        ctx.fillText(opts.text, 0, 0);
        ctx.restore();
    }
};

function drawColorbar(limit, plot, labelX) {
    const right = 80;
    new Chart(addCanvas(plot, 0, right, 12, 12), {
        type: 'bar',
        data: {
            labels: [''],
            datasets: [{
                data: [[-limit, limit]],
                barPercentage: 1,
                categoryPercentage: 1,
                backgroundColor: c => {
                    const area = c.chart.chartArea;
                    if (!area) return '#fff';
                    const g = c.chart.ctx.createLinearGradient(0, area.bottom, 0, area.top);
                    colorStops.forEach(s => g.addColorStop((s[0] + 1) / 2, s[1]));
                    return g;
                }
            }]
        },
        options: {
            responsive: false,
            layout: { padding: { top: 12, bottom: 12 } },
            plugins: {
                axisBox: { len: 3, xTicks: false, color: '#777' },
                sideLabel: { text: 'Pearson correlation', x: labelX }
            },
            scales: {
                x: { display: false },
                y: {
                    position: 'right', min: -limit, max: limit,
                    afterBuildTicks: setTicks(barTicks),
                    afterFit: s => { s.width = right; s.paddingTop = 0; s.paddingBottom = 0; },
                    grid: { display: false, drawTicks: false },
                    border: { display: false },
                    ticks: {
                        padding: 6, autoSkip: false,
                        font: { size: 15.5 },
                        callback: v => String(v)
                    }
                }
            }
        },
        plugins: [axisBox, sideLabel]
    });
}

function lineSet(points, color, width, dash) {
    return {
        data: points, showLine: true, pointRadius: 0,
        borderColor: color, borderWidth: width, borderDash: dash || []
    };
}

function crossSet(points) {
    return {
        data: points, showLine: false, pointStyle: 'cross', pointRadius: 3.8,
        pointBorderColor: 'rgba(245,30,40,0.7)', pointBorderWidth: 0.8
    };
}

// box, median, whiskers and caps of one group at position x
function boxSets(x, low, q1, median, q3, high, notchLow, notchHigh) {
    const half = 0.15;
    const cap = 0.075;
    const blue = '#4a4ae0';
    let outline;
    if (notchLow === undefined) {
        outline = [[-half, q1], [half, q1], [half, q3], [-half, q3], [-half, q1]];
    } else {
        outline = [[-half, q1], [half, q1], [half, notchLow], [cap, median], [half, notchHigh], [half, q3],
            [-half, q3], [-half, notchHigh], [-cap, median], [-half, notchLow], [-half, q1]];
    }
    const medianHalf = notchLow === undefined ? half : cap;
    return [
        lineSet(outline.map(p => ({ x: x + p[0], y: p[1] })), blue, 1),
        lineSet([{ x: x - medianHalf, y: median }, { x: x + medianHalf, y: median }], '#e8203c', 1),
        lineSet([{ x: x, y: q3 }, { x: x, y: high }], '#444', 1, [9, 7]),
        lineSet([{ x: x, y: q1 }, { x: x, y: low }], '#444', 1, [9, 7]),
        lineSet([{ x: x - cap, y: high }, { x: x + cap, y: high }], '#444', 1),
        lineSet([{ x: x - cap, y: low }, { x: x + cap, y: low }], '#444', 1)
    ];
}

function sideAxes(yMin, yMax, yTicks, yFormat, yTitle, titlePad, left, xMin, xMax, xTicks, xLabel) {
    return {
        x: {
            type: 'linear', min: xMin, max: xMax, offset: false,
            afterBuildTicks: setTicks(xTicks),
            afterFit: s => { s.height = 40; },
            grid: { display: false, drawTicks: false },
            border: { display: false },
            ticks: { padding: 7, autoSkip: false, font: { size: 11.5 }, callback: xLabel }
        },
        y: {
            min: yMin, max: yMax,
            afterBuildTicks: setTicks(yTicks),
            afterFit: s => { s.width = left; },
            grid: { display: false, drawTicks: false },
            border: { display: false },
            title: { display: true, text: yTitle, font: { size: 12.5 }, padding: { top: titlePad, bottom: 0 } },
            ticks: { padding: 5, autoSkip: false, font: { size: 11.5 }, callback: yFormat }
        },
        y2: spacerAxis(left)
    };
}

const groupName = v => groups[v - 1];

drawMatrix(szUpper, szLimit, { x: 94, y: 69, w: 375, h: 375 }, 'Mean of SZ', 54);
drawMatrix(hcUpper, hcLimit, { x: 609, y: 69, w: 376, h: 375 }, 'Mean of HC', 54);
drawMatrix(diffUpper, diffLimit, { x: 609, y: 590, w: 376, h: 375 }, 'Mean of |HC| - |SZ|', 575);
drawColorbar(szLimit, { x: 482, y: 69, w: 18, h: 375 }, 63);
drawColorbar(hcLimit, { x: 1004, y: 69, w: 20, h: 375 }, 63);
drawColorbar(diffLimit, { x: 1004, y: 590, w: 20, h: 375 }, 63);

// Panel C
const plotC = { x: 80, y: 590, w: 196, h: 375 };
new Chart(addCanvas(plotC, 50, 50, 30, 40), {
    type: 'bar',
    data: {
        datasets: [{
            data: groups.map((g, i) => ({ x: i + 1, y: groupVariances[i] })),
            backgroundColor: '#0072bd', borderColor: '#1d4468', borderWidth: 1, barThickness: 47
        }]
    },
    options: {
        responsive: false,
        plugins: {
            title: titleOptions('Group Variances', 18.6, 574, plotC.y),
            axisBox: { len: 4 }
        },
        scales: sideAxes(0, 0.06, varianceTicks, v => (v === 0 ? '0' : v.toFixed(2)), 'sFNC Variances', 5, 50, -0.2, 3.2, [1, 2], groupName)
    },
    plugins: [axisBox]
});

// Panel D
const plotD = { x: 351, y: 583, w: 182, h: 380 };
new Chart(addCanvas(plotD, 50, 50, 30, 40), {
    type: 'scatter',
    data: {
        datasets: [
            ...boxSets(1, ...szFnc),
            ...boxSets(2, ...hcFnc),
            crossSet(szFncOutliers.map(v => ({ x: 1, y: v }))),
            crossSet(hcFncOutliers.map(v => ({ x: 2, y: v })))
        ]
    },
    options: {
        responsive: false,
        plugins: {
            title: titleOptions('sFNC Absolute Values', 18.5, 567, plotD.y),
            axisBox: { len: 4 }
        },
        scales: sideAxes(-0.049, 1.1176, fncTicks, v => String(v), 'Static FNC Values', 11, 50, 0.5, 2.5, [1, 2], groupName)
    },
    plugins: [axisBox]
});

// Panel B
const plotB = { x: 1124, y: 41, w: 181, h: 922 };
new Chart(addCanvas(plotB, 42, 42, 30, 40), {
    type: 'scatter',
    data: {
        datasets: [
            ...boxSets(1, szEntropy[0], szEntropy[1], szEntropy[3], szEntropy[5], szEntropy[6], szEntropy[2], szEntropy[4]),
            ...boxSets(2, hcEntropy[0], hcEntropy[1], hcEntropy[3], hcEntropy[5], hcEntropy[6], hcEntropy[2], hcEntropy[4]),
            crossSet(hcEntropyOutliers.map(v => ({ x: 2, y: v }))),
            lineSet([{ x: 1, y: significanceLevel }, { x: 2, y: significanceLevel }], '#000', 1.5),
            {
                data: [{ x: 1.5, y: significanceMark }], showLine: false, pointStyle: 'star', pointRadius: 6,
                pointBorderColor: '#222', pointBorderWidth: 1
            }
        ]
    },
    options: {
        responsive: false,
        plugins: {
            title: titleOptions('Joint Entropy', 18.6, 26, plotB.y),
            axisBox: { len: 9, color: '#8a8a8a' }
        },
        scales: sideAxes(-8.69, 20.12, entropyTicks, v => String(v), 'Joint Entropy', 6, 42, 0.5, 2.5, [1, 2], groupName)
    },
    plugins: [axisBox]
});
</script>
</body>
</html>
